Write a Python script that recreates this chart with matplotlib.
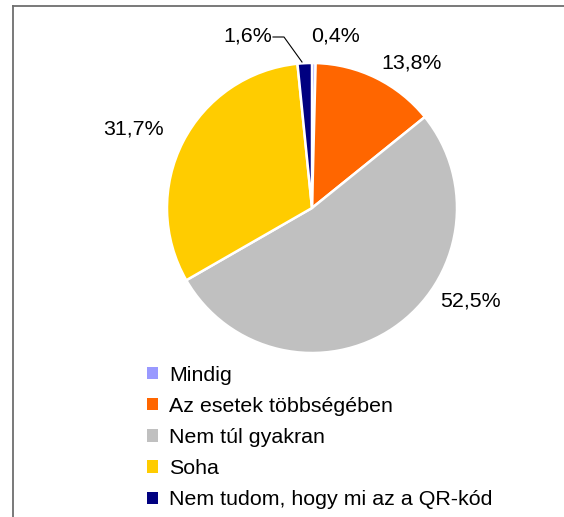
import matplotlib
matplotlib.use("Agg")
import matplotlib.pyplot as plt
from matplotlib.lines import Line2D

plt.rcParams['font.family'] = ['Liberation Sans', 'DejaVu Sans']

categories = ["Mindig", "Az esetek többségében", "Nem túl gyakran", "Soha",
              "Nem tudom, hogy mi az a QR-kód"]
shares = [0.4, 13.8, 52.5, 31.7, 1.6]
colors = ["#9999FF", "#FF6600", "#C0C0C0", "#FFCC00", "#000080"]
pct_labels = ["0,4%", "13,8%", "52,5%", "31,7%", "1,6%"]

W, H = 564, 517
fig = plt.figure(figsize=(W / 100, H / 100), dpi=100)
ax = fig.add_axes([0, 0, 1, 1])

# pie, centre and radius in pixel units
cx, cy, r = 312, H - 208, 145
wedges, _ = ax.pie(shares, colors=colors, startangle=90, counterclock=False,
                   center=(cx, cy), radius=r, frame=True,
                   wedgeprops=dict(edgecolor="white", linewidth=1.8))
ax.set_xlim(0, W)
ax.set_ylim(0, H)
ax.axis("off")

fs = 15.4

# percentage labels (pixel positions, like Excel's best fit)
label_pos = [(336, 36), (412, 63), (470, 301), (133, 129), (248, 36)]
for txt, (x, y) in zip(pct_labels, label_pos):
    ax.text(x, H - y, txt, ha="center", va="center", fontsize=fs)

# leader line for 1,6%
ax.plot([273, 284, 302], [H - 37, H - 37, H - 62], color="black", lw=0.8)

leg = ax.legend(wedges, categories, loc="upper left",
                bbox_to_anchor=(138 / W, 1 - 357 / H), frameon=False,
                fontsize=fs, handlelength=0.52, handleheight=0.52,
                handletextpad=0.52, labelspacing=0.57, borderaxespad=0)
for h in leg.legend_handles:
    h.set_edgecolor("none")

# chart area border (left and top only visible)
fig.add_artist(Line2D([13 / W, 13 / W], [0, 1 - 6 / H], transform=fig.transFigure,
                      color="#6e6e6e", lw=1.3))
fig.add_artist(Line2D([13 / W, 1], [1 - 6 / H, 1 - 6 / H], transform=fig.transFigure,
                      color="#6e6e6e", lw=1.3))

fig.savefig("out.png", dpi=100)
